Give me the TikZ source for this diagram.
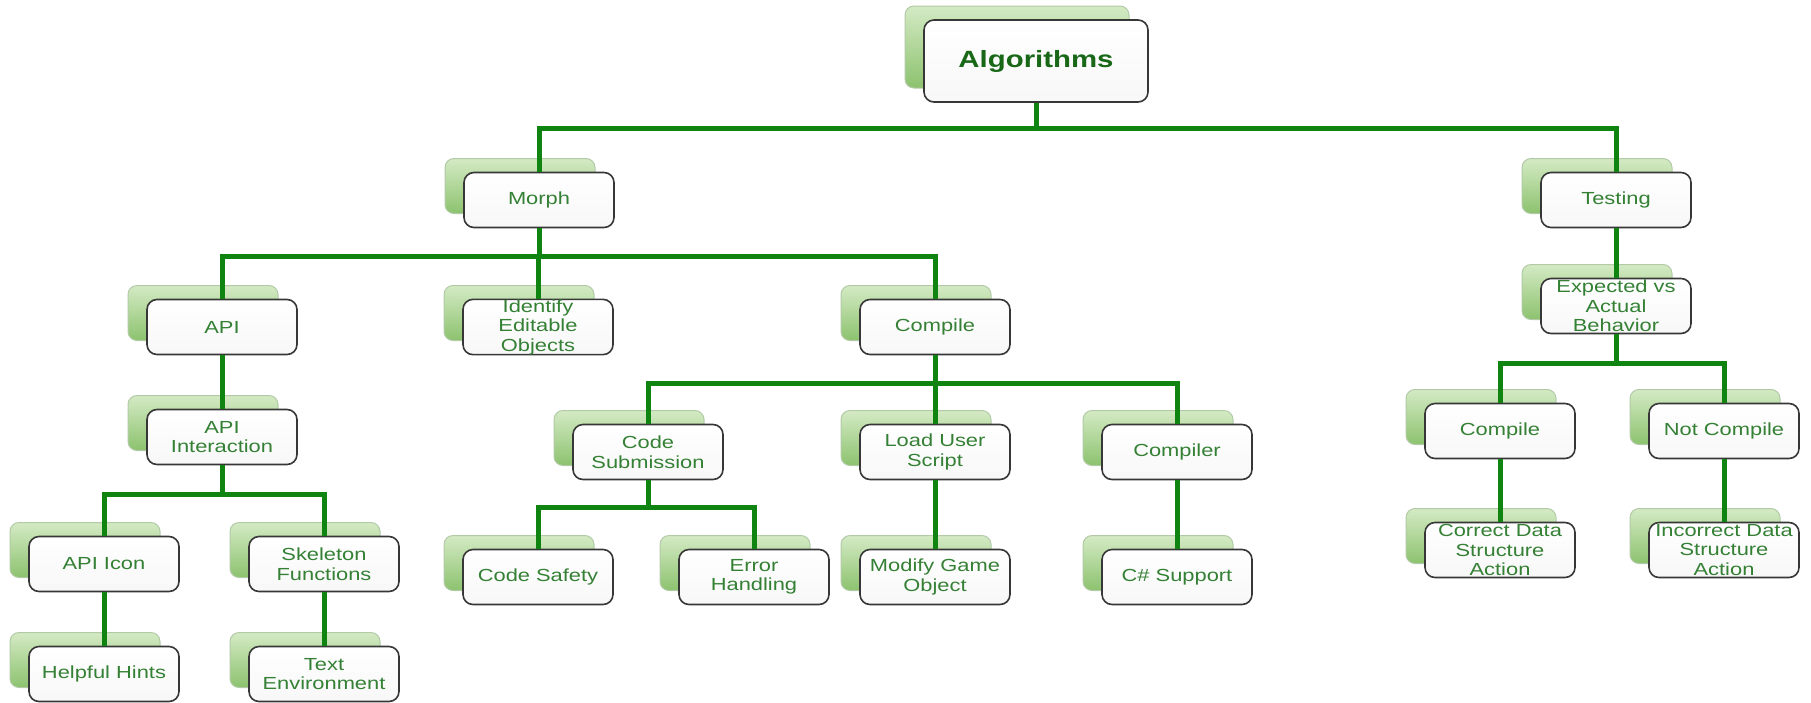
\documentclass[tikz,border=0pt]{standalone}
\usepackage{fontspec}
\newfontfamily\labfont{Liberation Sans}[FakeStretch=1.25]
\usetikzlibrary{calc}
\definecolor{linegreen}{RGB}{16,132,16}
\definecolor{textgreen}{RGB}{52,128,52}
\definecolor{titlegreen}{RGB}{24,104,24}
\definecolor{backtop}{RGB}{212,234,196}
\definecolor{backbot}{RGB}{140,194,110}
\definecolor{backedge}{RGB}{178,202,168}
\definecolor{frontedge}{RGB}{55,55,55}
\tikzset{
 backbox/.style={draw=backedge, line width=1pt, rounded corners=9pt, top color=backtop, bottom color=backbot, minimum width=150pt, minimum height=55pt, inner sep=0pt},
 frontbox/.style={draw=frontedge, line width=1.6pt, rounded corners=10pt, top color=white, bottom color=black!3, minimum width=150pt, minimum height=55pt, inner sep=0pt, align=center, font=\labfont\fontsize{17.5}{19.5}\selectfont, text=textgreen},
 bigbox/.style={minimum width=224pt, minimum height=82pt},
 conn/.style={draw=linegreen, line width=5pt},
}
\newcommand\tnode[4][]{%
 \node[backbox,#1] at ($(#3)+(-19,-14)$) {};
 \node[frontbox,#1] (#2) at (#3) {#4};
}
\begin{document}
\begin{tikzpicture}[x=1pt,y=-1pt]
\useasboundingbox (0,0) rectangle (1811,702);
\tnode[bigbox]{alg}{1036,61}{\fontsize{23.5}{25}\selectfont\bfseries\color{titlegreen}Algorithms}
\tnode{morph}{539,200}{Morph}
\tnode{testing}{1616,200}{Testing}
\tnode{api}{222,327}{API}
\tnode{identify}{538,327}{Identify\\Editable\\Objects}
\tnode{compA}{935,327}{Compile}
\tnode{expected}{1616,306}{Expected vs\\Actual\\Behavior}
\tnode{apiint}{222,437}{API\\Interaction}
\tnode{codesub}{648,452}{Code\\Submission}
\tnode{load}{935,452}{Load User\\Script}
\tnode{compiler}{1177,452}{Compiler}
\tnode{compB}{1500,431}{Compile}
\tnode{notcomp}{1724,431}{Not Compile}
\tnode{apiicon}{104,564}{API Icon}
\tnode{skeleton}{324,564}{Skeleton\\Functions}
\tnode{safety}{538,577}{Code Safety}
\tnode{error}{754,577}{Error\\Handling}
\tnode{modify}{935,577}{Modify Game\\Object}
\tnode{csharp}{1177,577}{C\# Support}
\tnode{correct}{1500,550}{Correct Data\\Structure\\Action}
\tnode{incorrect}{1724,550}{Incorrect Data\\Structure\\Action}
\tnode{hints}{104,674}{Helpful Hints}
\tnode{textenv}{324,674}{Text\\Environment}

\draw[conn] (alg.south) -- ++(0,26) -| (morph.north);
\draw[conn] (alg.south) -- ++(0,26) -| (testing.north);
\draw[conn] (morph.south) -- ++(0,28) -| (api.north);
\draw[conn] (morph.south) -- ++(0,28) -| (identify.north);
\draw[conn] (morph.south) -- ++(0,28) -| (compA.north);
\draw[conn] (api.south) -- (apiint.north);
\draw[conn] (apiint.south) -- ++(0,29) -| (apiicon.north);
\draw[conn] (apiint.south) -- ++(0,29) -| (skeleton.north);
\draw[conn] (apiicon.south) -- (hints.north);
\draw[conn] (skeleton.south) -- (textenv.north);
\draw[conn] (compA.south) -- ++(0,28) -| (codesub.north);
\draw[conn] (compA.south) -- ++(0,28) -| (load.north);
\draw[conn] (compA.south) -- ++(0,28) -| (compiler.north);
\draw[conn] (codesub.south) -- ++(0,27) -| (safety.north);
\draw[conn] (codesub.south) -- ++(0,27) -| (error.north);
\draw[conn] (load.south) -- (modify.north);
\draw[conn] (compiler.south) -- (csharp.north);
\draw[conn] (testing.south) -- (expected.north);
\draw[conn] (expected.south) -- ++(0,29) -| (compB.north);
\draw[conn] (expected.south) -- ++(0,29) -| (notcomp.north);
\draw[conn] (compB.south) -- (correct.north);
\draw[conn] (notcomp.south) -- (incorrect.north);
\end{tikzpicture}
\end{document}
